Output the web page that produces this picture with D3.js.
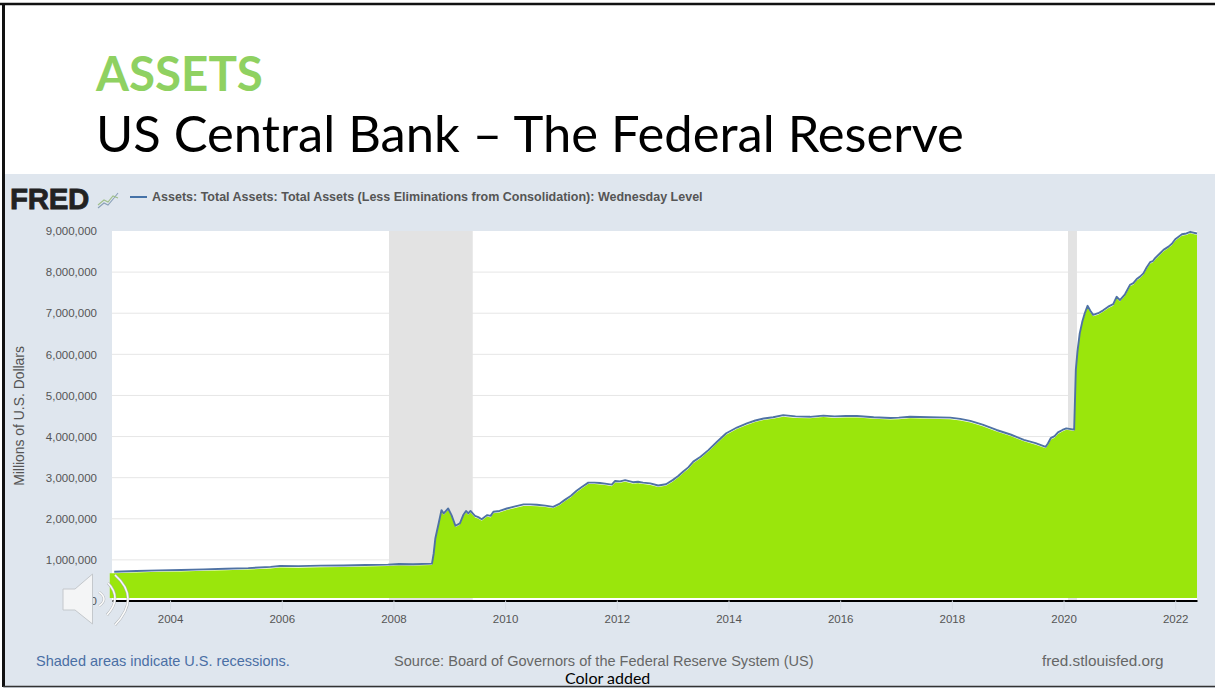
<!DOCTYPE html>
<html>
<head>
<meta charset="utf-8">
<script src="https://cdn.jsdelivr.net/npm/d3@7/dist/d3.min.js"></script>
<style>
  html, body { margin: 0; padding: 0; background: #fff; }
  svg { display: block; }
  text { font-family: "Liberation Sans", Arial, sans-serif; }
</style>
</head>
<body>
<svg id="slide" width="1215" height="688"></svg>
<script>
// Total assets in millions of dollars, with the matching decimal years, one row per stretch of the series
const years = [
  2003.0, 2003.4, 2003.8, 2004.2, 2004.6, 2005.0, 2005.4, 2005.8, 2005.97, 2006.3, 2006.7, 2007.1, 2007.5, 2007.9, 2008.1, 2008.35, 2008.69,
  2008.72, 2008.75, 2008.81, 2008.86, 2008.9, 2008.98, 2009.04, 2009.11, 2009.19, 2009.25, 2009.3, 2009.34, 2009.38, 2009.46, 2009.52, 2009.58,
  2009.68, 2009.74, 2009.79, 2009.9, 2010.03, 2010.18, 2010.33, 2010.45, 2010.57, 2010.72, 2010.86, 2010.98, 2011.07, 2011.18, 2011.28, 2011.38, 2011.49,
  2011.6, 2011.7, 2011.82, 2011.91, 2011.97, 2012.06, 2012.15, 2012.29, 2012.38, 2012.47, 2012.6, 2012.74, 2012.88, 2013.0,
  2013.1, 2013.19, 2013.28, 2013.37, 2013.5, 2013.64, 2013.8, 2013.96, 2014.15, 2014.33, 2014.48, 2014.63, 2014.8, 2014.98,
  2015.2, 2015.46, 2015.7, 2015.9, 2016.1, 2016.3, 2016.6, 2016.9, 2017.05, 2017.25, 2017.6, 2017.97, 2018.15, 2018.33,
  2018.55, 2018.8, 2019.05, 2019.29, 2019.5, 2019.68, 2019.72, 2019.77, 2019.84, 2019.9, 2019.98, 2020.05, 2020.19,
  2020.22, 2020.25, 2020.29, 2020.335, 2020.38, 2020.43, 2020.48, 2020.53, 2020.62, 2020.71, 2020.8, 2020.89, 2020.95, 2021.01, 2021.1,
  2021.19, 2021.25, 2021.31, 2021.37, 2021.43, 2021.49, 2021.55, 2021.6, 2021.64, 2021.73, 2021.79, 2021.88, 2021.94, 2022.0, 2022.12, 2022.2, 2022.27, 2022.39
];
const assets = [
  710000, 730000, 745000, 755000, 770000, 785000, 800000, 830000, 850000, 848000, 860000, 865000, 875000, 885000, 900000, 895000, 910000,
  1150000, 1520000, 1890000, 2210000, 2130000, 2250000, 2090000, 1830000, 1890000, 2090000, 2190000, 2130000, 2190000, 2070000, 2040000, 1990000,
  2090000, 2070000, 2170000, 2190000, 2250000, 2300000, 2350000, 2350000, 2340000, 2320000, 2290000, 2370000, 2460000, 2560000, 2680000, 2780000, 2880000,
  2880000, 2870000, 2850000, 2830000, 2920000, 2910000, 2940000, 2890000, 2900000, 2880000, 2860000, 2810000, 2840000, 2940000,
  3040000, 3150000, 3250000, 3390000, 3510000, 3670000, 3880000, 4080000, 4220000, 4320000, 4390000, 4440000, 4470000, 4520000,
  4490000, 4480000, 4510000, 4490000, 4500000, 4500000, 4470000, 4450000, 4460000, 4480000, 4470000, 4460000, 4430000, 4380000,
  4290000, 4160000, 4050000, 3920000, 3840000, 3750000, 3830000, 3960000, 4010000, 4100000, 4160000, 4200000, 4170000,
  5620000, 6080000, 6510000, 6790000, 7000000, 7180000, 7060000, 6960000, 7000000, 7070000, 7160000, 7220000, 7400000, 7320000, 7460000,
  7690000, 7730000, 7830000, 7890000, 7970000, 8120000, 8240000, 8270000, 8340000, 8460000, 8540000, 8620000, 8690000, 8800000, 8920000, 8940000, 8980000, 8940000
];

// Recession spans, as decimal years
const recessionStart = [2007.92, 2020.08];
const recessionEnd = [2009.42, 2020.24];

const yTicks = [0, 1000000, 2000000, 3000000, 4000000, 5000000, 6000000, 7000000, 8000000, 9000000];
const xTicks = [2004, 2006, 2008, 2010, 2012, 2014, 2016, 2018, 2020, 2022];

const slideTitle = "ASSETS";
const slideSubtitle = "US Central Bank \u2013 The Federal Reserve";
const seriesName = "Assets: Total Assets: Total Assets (Less Eliminations from Consolidation): Wednesday Level";
const yAxisName = "Millions of U.S. Dollars";

const svg = d3.select("#slide");
const W = 1215, H = 688;
const plot = { left: 112, right: 1197, top: 231, bottom: 601 };

const x = d3.scaleLinear().domain([2002.96, 2022.39]).range([plot.left, plot.right]);
const y = d3.scaleLinear().domain([0, 9000000]).range([plot.bottom, plot.top]);

// Slide frame and title block
svg.append("rect").attr("width", W).attr("height", H).attr("fill", "#fff");
svg.append("rect").attr("x", 4).attr("y", 174).attr("width", W - 4).attr("height", H - 174).attr("fill", "#dfe6ee");

svg.append("text").attr("x", 96).attr("y", 91)
  .style("font-family", "Lato, 'Open Sans', sans-serif").style("font-weight", 700).style("font-size", "47.5px")
  .attr("fill", "#8fd161").text(slideTitle);
svg.append("text").attr("x", 96).attr("y", 152)
  .style("font-family", "Lato, 'Open Sans', sans-serif").style("font-size", "50.7px")
  .attr("fill", "#000").text(slideSubtitle);

// FRED masthead with its small sparkline badge
svg.append("text").attr("x", 10).attr("y", 209)
  .style("font-weight", 700).style("font-size", "29.5px").style("letter-spacing", "-0.3px")
  .attr("fill", "#222").attr("stroke", "#222").attr("stroke-width", 0.8).text("FRED");
const badge = svg.append("g").attr("fill", "none").attr("stroke-width", 1.1);
badge.append("path").attr("d", "M98 208 L104 203 L108 205 L114 198 L118 193").attr("stroke", "#8aa0b8");
badge.append("path").attr("d", "M98 205 L104 200 L108 202 L113 196 L118 198").attr("stroke", "#9fbf8a");

svg.append("line").attr("x1", 130).attr("x2", 147).attr("y1", 197).attr("y2", 197)
  .attr("stroke", "#4572a7").attr("stroke-width", 2);
svg.append("text").attr("x", 152).attr("y", 201)
  .style("font-weight", 700).style("font-size", "12.5px").attr("fill", "#555").text(seriesName);

// Plot background, recession bands and grid
svg.append("rect").attr("x", plot.left).attr("y", plot.top)
  .attr("width", plot.right - plot.left).attr("height", plot.bottom - plot.top).attr("fill", "#fff");

svg.append("g").selectAll("line").data(yTicks.slice(1, -1)).join("line")
  .attr("x1", plot.left).attr("x2", plot.right)
  .attr("y1", d => y(d)).attr("y2", d => y(d))
  .attr("stroke", "#e6e6e6").attr("stroke-width", 1);

svg.append("g").selectAll("rect").data(recessionStart).join("rect")
  .attr("x", d => x(d)).attr("y", plot.top)
  .attr("width", (d, i) => x(recessionEnd[i]) - x(d))
  .attr("height", plot.bottom - plot.top)
  .attr("fill", "#e3e3e3");

// Filled area, painted just under the series line and running slightly past its left end
const series = years.map((year, i) => ({ year, value: assets[i] }));
const fillSeries = [{ year: 2002.92, value: assets[0] }, ...series];

const area = d3.area().x(d => x(d.year)).y0(y(0) - 3).y1(d => y(d.value) + 1.5);
svg.append("path").datum(fillSeries).attr("d", area).attr("fill", "#9ae60c");

const line = d3.line().x(d => x(d.year)).y(d => y(d.value));
svg.append("path").datum(series).attr("d", line)
  .attr("fill", "none").attr("stroke", "#4f72a4").attr("stroke-width", 1.9).attr("stroke-linejoin", "round");

// Axes
const xAxis = d3.axisBottom(x).tickValues(xTicks).tickFormat(d3.format("d"))
  .tickSizeInner(9).tickSizeOuter(0).tickPadding(5);
const gx = svg.append("g").attr("transform", `translate(0,${plot.bottom - 0.5})`).call(xAxis);
gx.select(".domain").attr("stroke", "#000").attr("stroke-width", 2);
gx.selectAll(".tick line").attr("stroke", "#d5dce4");
gx.selectAll(".tick text").attr("fill", "#555").style("font-size", "11.5px")
  .style("font-family", "'Liberation Sans', Arial, sans-serif");

const yAxis = d3.axisLeft(y).tickValues(yTicks).tickFormat(d3.format(",")).tickSize(0).tickPadding(15);
const gy = svg.append("g").attr("transform", `translate(${plot.left},0)`).call(yAxis);
gy.select(".domain").remove();
gy.selectAll(".tick text").attr("fill", "#555").style("font-size", "11.5px")
  .style("font-family", "'Liberation Sans', Arial, sans-serif");

svg.append("text").attr("transform", `translate(24,416) rotate(-90)`)
  .attr("text-anchor", "middle").style("font-size", "13.9px").attr("fill", "#555").text(yAxisName);

// Footer notes
svg.append("text").attr("x", 36).attr("y", 666).style("font-size", "14.5px").attr("fill", "#4a6fa5")
  .text("Shaded areas indicate U.S. recessions.");
svg.append("text").attr("x", 394).attr("y", 666).style("font-size", "14.55px").attr("fill", "#666")
  .text("Source: Board of Governors of the Federal Reserve System (US)");
svg.append("text").attr("x", 1042).attr("y", 666).style("font-size", "15.3px").attr("fill", "#666")
  .text("fred.stlouisfed.org");
svg.append("text").attr("x", 565).attr("y", 684)
  .style("font-family", "Lato, 'Open Sans', sans-serif").style("font-size", "16px").attr("fill", "#000")
  .text("Color added");

// Audio icon laid over the lower left of the slide
const speaker = svg.append("g");
speaker.append("path").attr("d", "M63 589 L75 589 L92.5 574 L92.5 624 L75 610 L63 610 Z")
  .attr("fill", "#f4f5f6").attr("stroke", "#c4c8cc").attr("stroke-width", 1);
const waves = ["M99 592 Q109 599 99 606", "M108 583 Q122.5 598 107 615", "M115 575 Q141 598 115 625"];
speaker.selectAll("path.under").data(waves).join("path").attr("class", "under").attr("d", d => d)
  .attr("fill", "none").attr("stroke", "#aeb2b6").attr("stroke-width", 2.6);
speaker.selectAll("path.over").data(waves).join("path").attr("class", "over").attr("d", d => d)
  .attr("fill", "none").attr("stroke", "#fbfbfb").attr("stroke-width", 1.6);

// Frame lines along the top, left and bottom of the slide
svg.append("line").attr("x1", 0).attr("x2", W).attr("y1", 4).attr("y2", 4).attr("stroke", "#111").attr("stroke-width", 2.5);
svg.append("line").attr("x1", 3.5).attr("x2", 3.5).attr("y1", 4).attr("y2", 687).attr("stroke", "#111").attr("stroke-width", 3);
svg.append("line").attr("x1", 3).attr("x2", W).attr("y1", 686.5).attr("y2", 686.5).attr("stroke", "#333").attr("stroke-width", 1.5);
</script>
</body>
</html>
